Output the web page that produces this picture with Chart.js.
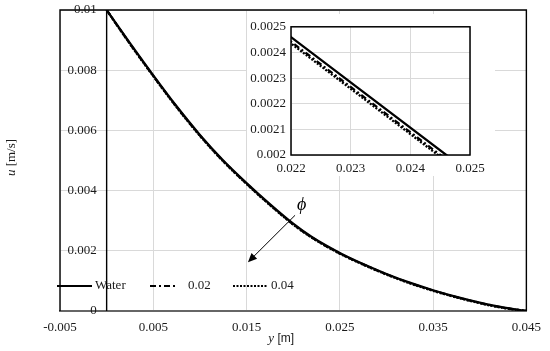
<!DOCTYPE html>
<html>
<head>
<meta charset="utf-8">
<script src="https://cdn.jsdelivr.net/npm/chart.js@4.4.0/dist/chart.umd.min.js"></script>
<style>
  html, body { margin: 0; padding: 0; background: #fff; }
  #wrap { position: relative; width: 550px; height: 351px; }
  #main { position: absolute; left: 0; top: 0; }
  #inset { position: absolute; left: 247px; top: 14px; background: #fff; }
</style>
</head>
<body>
<div id="wrap">
  <canvas id="main" width="550" height="351"></canvas>
  <canvas id="inset" width="248" height="162"></canvas>
</div>
<script>
// distance from the wall y [m]
const yPos = [0, 0.0025, 0.005, 0.0075, 0.01, 0.0125, 0.015, 0.0175, 0.02, 0.022,
  0.025, 0.0275, 0.03, 0.0325, 0.035, 0.0375, 0.04, 0.0425, 0.045];
// velocity u [m/s] for each fluid
const uWater = [0.01, 0.0089, 0.00783, 0.0068, 0.00585, 0.005, 0.00425, 0.00355, 0.0029, 0.00246,
  0.00193, 0.00156, 0.00123, 0.00094, 0.00069, 0.00047, 0.00028, 0.00012, 0];
const u002 = [0.01, 0.00888, 0.00781, 0.00678, 0.00583, 0.00498, 0.00423, 0.00353, 0.00288, 0.002442,
  0.001912, 0.00155, 0.00122, 0.00093, 0.00068, 0.00046, 0.00027, 0.00011, 0];
const u004 = [0.01, 0.00887, 0.0078, 0.00677, 0.00582, 0.00497, 0.00422, 0.00352, 0.00287, 0.002435,
  0.001905, 0.00154, 0.00121, 0.00092, 0.00067, 0.00045, 0.00026, 0.0001, 0];
const seriesLabels = ["Water", "0.02", "0.04"];

const xTicks = [-0.005, 0.005, 0.015, 0.025, 0.035, 0.045];
const yTicks = [0, 0.002, 0.004, 0.006, 0.008, 0.01];
const insetXTicks = [0.022, 0.023, 0.024, 0.025];
const insetYTicks = [0.002, 0.0021, 0.0022, 0.0023, 0.0024, 0.0025];

// arrow for increasing phi, in data units
const arrowFrom = [0.0202, 0.00318];
const arrowTo = [0.01515, 0.00162];
const phiAt = [0.0209, 0.0035];

const SERIF = "'Liberation Serif', 'Times New Roman', serif";
const GRID = "#d9d9d9";
const TXT = "#1a1a1a";

const dashes = [[], [6, 3, 2, 3], [2, 1.5]];
const seriesValues = [uWater, u002, u004];

const makeDatasets = (smooth) =>
  seriesValues.map((vals, i) => ({
    label: seriesLabels[i],
    data: yPos.map((x, k) => ({ x, y: vals[k] })),
    borderColor: "#000",
    borderWidth: 2.3,
    borderDash: dashes[i],
    pointRadius: 0,
    fill: false,
    cubicInterpolationMode: smooth ? "monotone" : "default",
    tension: 0,
  }));

const setTicks = (arr) => (scale) => {
  scale.ticks = arr.map((v) => ({ value: v }));
};

function drawMixed(ctx, parts, cx, cy) {
  let total = 0;
  parts.forEach((p) => { ctx.font = p.font; total += ctx.measureText(p.text).width; });
  let x = cx - total / 2;
  ctx.textAlign = "left";
  ctx.textBaseline = "middle";
  parts.forEach((p) => {
    ctx.font = p.font;
    ctx.fillText(p.text, x, cy);
    x += ctx.measureText(p.text).width;
  });
}

const mainDecor = {
  id: "mainDecor",
  afterDraw(chart) {
    const { ctx, chartArea: a, scales } = chart;
    const xs = scales.x, ys = scales.y;
    ctx.save();

    // plot frame (bottom is the x axis line)
    ctx.strokeStyle = "#000";
    ctx.lineWidth = 1.4;
    ctx.beginPath();
    ctx.moveTo(a.left, a.bottom);
    ctx.lineTo(a.left, a.top);
    ctx.lineTo(a.right, a.top);
    ctx.lineTo(a.right, a.bottom);
    ctx.stroke();

    // vertical axis crossing at y = 0
    const x0 = xs.getPixelForValue(0);
    ctx.beginPath();
    ctx.moveTo(x0, a.top);
    ctx.lineTo(x0, a.bottom);
    ctx.stroke();

    // vertical axis labels next to the crossing
    ctx.fillStyle = TXT;
    ctx.font = "13px " + SERIF;
    ctx.textAlign = "right";
    ctx.textBaseline = "middle";
    yTicks.forEach((v) => ctx.fillText(String(v), x0 - 10, ys.getPixelForValue(v)));

    // legend inside the plot
    const ly = 286;
    const items = [
      { x1: 57, x2: 92, tx: 95 },
      { x1: 150, x2: 178, tx: 188 },
      { x1: 233, x2: 268, tx: 271 },
    ];
    chart.data.datasets.forEach((ds, i) => {
      const it = items[i];
      ctx.strokeStyle = "#000";
      ctx.lineWidth = 2.2;
      ctx.setLineDash(ds.borderDash || []);
      ctx.beginPath();
      ctx.moveTo(it.x1, ly);
      ctx.lineTo(it.x2, ly);
      ctx.stroke();
      ctx.setLineDash([]);
      ctx.font = "13px " + SERIF;
      ctx.textAlign = "left";
      ctx.textBaseline = "middle";
      ctx.fillText(ds.label, it.tx, ly);
    });

    // arrow and phi
    const ax1 = xs.getPixelForValue(arrowFrom[0]), ay1 = ys.getPixelForValue(arrowFrom[1]);
    const ax2 = xs.getPixelForValue(arrowTo[0]), ay2 = ys.getPixelForValue(arrowTo[1]);
    const ang = Math.atan2(ay2 - ay1, ax2 - ax1);
    ctx.strokeStyle = "#000";
    ctx.fillStyle = "#000";
    ctx.lineWidth = 1;
    ctx.beginPath();
    ctx.moveTo(ax1, ay1);
    ctx.lineTo(ax2 - 6 * Math.cos(ang), ay2 - 6 * Math.sin(ang));
    ctx.stroke();
    ctx.beginPath();
    ctx.moveTo(ax2, ay2);
    ctx.lineTo(ax2 - 9 * Math.cos(ang) + 4 * Math.sin(ang), ay2 - 9 * Math.sin(ang) - 4 * Math.cos(ang));
    ctx.lineTo(ax2 - 9 * Math.cos(ang) - 4 * Math.sin(ang), ay2 - 9 * Math.sin(ang) + 4 * Math.cos(ang));
    ctx.closePath();
    ctx.fill();
    ctx.font = "italic 18px " + SERIF;
    ctx.textAlign = "center";
    ctx.textBaseline = "middle";
    ctx.fillText("\u03D5", xs.getPixelForValue(phiAt[0]), ys.getPixelForValue(phiAt[1]));

    // axis titles
    ctx.fillStyle = TXT;
    drawMixed(ctx, [
      { text: "y", font: "italic 13px " + SERIF },
      { text: " [m]", font: "12px 'Liberation Sans', Arial, sans-serif" },
    ], (a.left + a.right) / 2 - 12, 339);
    ctx.save();
    ctx.translate(12, (a.top + a.bottom) / 2 - 3);
    ctx.rotate(-Math.PI / 2);
    drawMixed(ctx, [
      { text: "u", font: "italic 13px " + SERIF },
      { text: " [m/s]", font: "13px " + SERIF },
    ], 0, 0);
    ctx.restore();

    ctx.restore();
  },
};

new Chart(document.getElementById("main"), {
  type: "line",
  data: { datasets: makeDatasets(true) },
  options: {
    responsive: false,
    animation: false,
    layout: { padding: { left: 60, right: 20, top: 10, bottom: 0 } },
    plugins: { legend: { display: false }, tooltip: { enabled: false } },
    scales: {
      x: {
        type: "linear",
        min: -0.005,
        max: 0.045,
        afterBuildTicks: setTicks(xTicks),
        afterFit: (s) => { s.height = 40; },
        ticks: {
          color: TXT,
          font: { family: SERIF, size: 13 },
          padding: 9,
          maxRotation: 0,
          autoSkip: false,
          callback: (v) => String(v),
        },
        grid: { color: GRID, drawTicks: false },
        border: { color: "#666", width: 2 },
      },
      y: {
        type: "linear",
        min: 0,
        max: 0.01,
        afterBuildTicks: setTicks(yTicks),
        afterFit: (s) => { s.width = 0; },
        ticks: { display: false },
        grid: { color: GRID, drawTicks: false },
        border: { display: false },
      },
    },
  },
  plugins: [mainDecor],
});

const insetFrame = {
  id: "insetFrame",
  afterDraw(chart) {
    const { ctx, chartArea: a } = chart;
    ctx.save();
    ctx.strokeStyle = "#000";
    ctx.lineWidth = 1.5;
    ctx.strokeRect(a.left, a.top, a.right - a.left, a.bottom - a.top);
    ctx.restore();
  },
};

new Chart(document.getElementById("inset"), {
  type: "line",
  data: { datasets: makeDatasets(false) },
  options: {
    responsive: false,
    animation: false,
    layout: { padding: { left: 0, right: 25, top: 11, bottom: 0 } },
    plugins: { legend: { display: false }, tooltip: { enabled: false } },
    scales: {
      x: {
        type: "linear",
        min: 0.022,
        max: 0.025,
        afterBuildTicks: setTicks(insetXTicks),
        afterFit: (s) => { s.height = 21; },
        ticks: {
          color: TXT,
          font: { family: SERIF, size: 13 },
          padding: 6,
          maxRotation: 0,
          autoSkip: false,
          callback: (v) => String(v),
        },
        grid: { color: GRID, drawTicks: false },
        border: { display: false },
      },
      y: {
        type: "linear",
        min: 0.002,
        max: 0.0025,
        afterBuildTicks: setTicks(insetYTicks),
        afterFit: (s) => { s.width = 44; },
        ticks: {
          color: TXT,
          font: { family: SERIF, size: 13 },
          padding: 5,
          callback: (v) => String(v),
        },
        grid: { color: GRID, drawTicks: false },
        border: { display: false },
      },
    },
  },
  plugins: [insetFrame],
});
</script>
</body>
</html>
